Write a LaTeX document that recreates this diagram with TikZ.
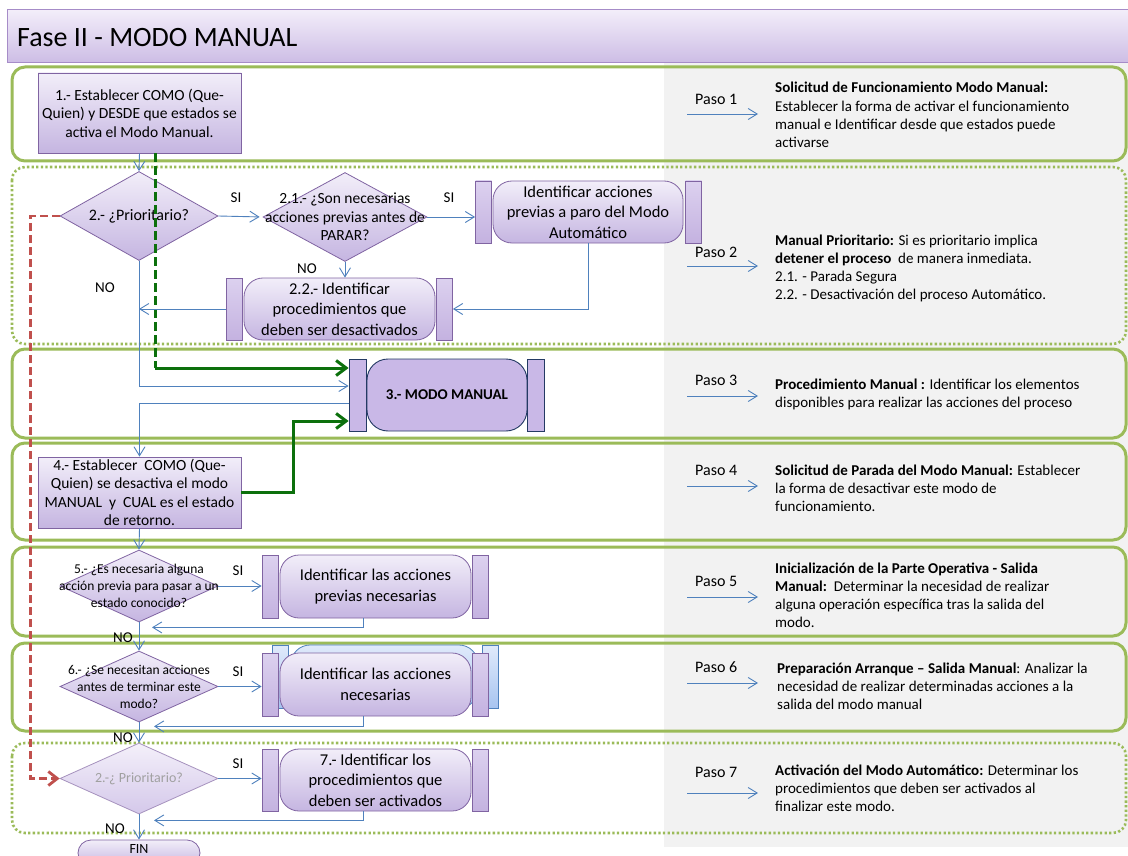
\documentclass[tikz,border=0pt]{standalone}
\usepackage{fontspec}
\setmainfont{Carlito}
\usetikzlibrary{arrows.meta,shapes.geometric,calc}

% palette
\definecolor{lanegreen}{RGB}{155,187,89}
\definecolor{flowblue}{RGB}{79,129,189}
\definecolor{boxedge}{RGB}{128,100,162}
\definecolor{boxtop}{RGB}{242,238,249}
\definecolor{boxbot}{RGB}{197,181,225}
\definecolor{bartop}{RGB}{220,209,239}
\definecolor{barbot}{RGB}{196,178,224}
\definecolor{okgreen}{RGB}{12,112,12}
\definecolor{backred}{RGB}{192,80,77}
\definecolor{panelgray}{RGB}{242,242,242}
\definecolor{modofill}{RGB}{201,184,231}
\definecolor{modoedge}{RGB}{36,58,100}
\definecolor{shadowtop}{RGB}{224,234,251}
\definecolor{shadowbot}{RGB}{167,196,240}
\definecolor{headtop}{RGB}{243,238,250}
\definecolor{headbot}{RGB}{205,189,229}
\definecolor{headedge}{RGB}{166,140,200}
\definecolor{fadetext}{RGB}{160,160,160}
\definecolor{fadetop}{RGB}{244,240,250}
\definecolor{fadebot}{RGB}{212,200,234}

% type sizes
\newcommand\fstitle{\fontsize{28}{32}\selectfont}
\newcommand\fsside{\fontsize{15}{18.3}\selectfont}
\newcommand\fspaso{\fontsize{16}{19}\selectfont}
\newcommand\fsbox{\fontsize{15.5}{18.5}\selectfont}
\newcommand\fsround{\fontsize{16.5}{20.5}\selectfont}
\newcommand\fsdiam{\fontsize{15.5}{18.5}\selectfont}
\newcommand\fssmall{\fontsize{13.5}{17}\selectfont}
\newcommand\fstag{\fontsize{15}{18}\selectfont}
\newcommand\leftlines[1]{\begin{tabular}[t]{@{}l@{}}#1\end{tabular}}

\tikzset{
  lane/.style={draw=lanegreen, line width=3pt, rounded corners=13pt},
  dotlane/.style={draw=lanegreen, line width=2.6pt, rounded corners=13pt, dash pattern=on 2.3pt off 2.3pt},
  stepbox/.style={rectangle, draw=boxedge, line width=0.8pt, top color=boxtop, bottom color=boxbot,
    minimum width=203pt, align=center, inner sep=0pt, font=\fsbox},
  decision/.style={diamond, draw=boxedge, line width=0.8pt, top color=boxtop, bottom color=boxbot,
    inner sep=0pt, minimum width=158pt},
  roundbox/.style={rectangle, rounded corners=19pt, draw=boxedge, line width=0.8pt, top color=boxtop,
    bottom color=boxbot, minimum width=191pt, align=center, inner sep=0pt, font=\fsround},
  sidebar/.style={rectangle, draw=boxedge, line width=0.8pt, top color=bartop, bottom color=barbot,
    minimum width=16pt, inner sep=0pt},
  shadowbox/.style={draw=flowblue, line width=0.8pt, top color=shadowtop, bottom color=shadowbot, inner sep=0pt},
  flow/.style={draw=flowblue, line width=0.9pt, -{Straight Barb[length=9pt,width=11pt]}},
  okflow/.style={draw=okgreen, line width=3pt, -{Straight Barb[length=10pt,width=15pt]}},
  okdash/.style={draw=okgreen, line width=3pt, dash pattern=on 9pt off 4pt},
  backflow/.style={draw=backred, line width=2.8pt, dash pattern=on 8pt off 4pt, -{Straight Barb[length=9pt,width=14pt]}},
  tag/.style={font=\fstag, inner sep=0pt, anchor=base},
  pasotag/.style={font=\fspaso, inner sep=0pt, anchor=base west},
  pasotext/.style={font=\fsside, inner sep=0pt, anchor=base west},
}

\begin{document}
\begin{tikzpicture}[x=1pt,y=-1pt]
\useasboundingbox (0,0) rectangle (1128,856);
\clip (0,0) rectangle (1128,856);
\fill[white] (0,0) rectangle (1128,856);

% right-hand description panel
\fill[panelgray] (664,62) rectangle (1128,847);

% title bar
\node[draw=headedge, line width=0.8pt, top color=headtop, bottom color=headbot, minimum width=1121pt,
  minimum height=53pt, inner sep=0pt, anchor=north west] (head) at (7,9) {};
\node[font=\fstitle, anchor=base west, inner sep=0pt] (title) at (17,47) {Fase II - MODO MANUAL};

% swim lanes
\draw[lane]    (12,67)  rectangle (1126,161);
\draw[dotlane] (12,167) rectangle (1126,344);
\draw[lane]    (12,349) rectangle (1126,438);
\draw[lane]    (12,443) rectangle (1126,540);
\draw[lane]    (12,547) rectangle (1126,636);
\draw[lane]    (12,643) rectangle (1126,731);
\draw[dotlane] (12,743) rectangle (1126,833);

% step 1
\node[stepbox, minimum height=80pt] (b1) at (139.5,113)
  {1.- Establecer COMO (Que-\\Quien) y DESDE que estados se\\activa el Modo Manual.};

% step 2
\node[decision, minimum height=89pt,
  label={[font=\fontsize{16}{19}\selectfont, inner sep=0pt]center:2.- ¿Prioritario?}] (d2) at (139,216) {};
\node[decision, minimum width=164pt, minimum height=89pt,
  label={[font=\fsdiam, align=center, inner sep=0pt]center:2.1.- ¿Son necesarias\\acciones previas antes de\\PARAR?}] (d21) at (345,217) {};
\node[roundbox, minimum width=190pt, minimum height=62pt] (aB) at (588,212)
  {Identificar acciones\\previas a paro del Modo\\Automático};
\node[sidebar, minimum height=62pt] (aL) at (483.5,212) {};
\node[sidebar, minimum height=62pt] (aR) at (693.5,212) {};
\node[roundbox, minimum height=62pt] (pB) at (339.5,309)
  {2.2.- Identificar\\procedimientos que\\deben ser desactivados};
\node[sidebar, minimum height=62pt] (pL) at (234.5,309) {};
\node[sidebar, minimum height=62pt] (pR) at (444.5,309) {};

% step 3
\node[sidebar, draw=modoedge, top color=modofill, bottom color=modofill, minimum width=17pt, minimum height=72pt] (mL) at (357.5,395) {};
\node[rectangle, rounded corners=21pt, draw=modoedge, line width=0.9pt, fill=modofill, minimum width=160pt,
  minimum height=72pt, inner sep=0pt, font=\fontsize{15}{17}\selectfont\bfseries] (mB) at (447,395) {3.- MODO MANUAL};
\node[sidebar, draw=modoedge, top color=modofill, bottom color=modofill, minimum width=17pt, minimum height=72pt] (mR) at (536,395) {};

% step 4
\node[stepbox, minimum height=71pt] (b4) at (139.5,492.5)
  {4.- Establecer\ \ COMO (Que-\\Quien) se desactiva el modo\\MANUAL\ \ y\ \ CUAL es el estado\\de retorno.};

% step 5
\node[decision, minimum height=72pt,
  label={[font=\fssmall, align=center, inner sep=0pt]center:5.- ¿Es necesaria alguna\\acción previa para pasar a un\\estado conocido?}] (d5) at (139,586) {};
\node[roundbox, minimum height=63pt] (qB) at (375.5,586.5) {Identificar las acciones\\previas necesarias};
\node[sidebar, minimum height=63pt] (qL) at (270,586.5) {};
\node[sidebar, minimum height=63pt] (qR) at (480.5,586.5) {};

% step 6
\node[decision, minimum height=71pt,
  label={[font=\fssmall, align=center, inner sep=0pt]center:6.- ¿Se necesitan acciones\\antes de terminar este\\modo?}] (d6) at (139,686.5) {};
\node[shadowbox, minimum width=16pt, minimum height=63pt] (sL) at (280,676.5) {};
\node[shadowbox, rounded corners=19pt, minimum width=187pt, minimum height=63pt] (sB) at (384.5,676.5) {};
\node[shadowbox, minimum width=16pt, minimum height=63pt] (sR) at (490,676.5) {};
\node[roundbox, minimum height=63pt] (rB) at (375.5,684.5) {Identificar las acciones\\necesarias};
\node[sidebar, minimum height=63pt] (rL) at (270,684.5) {};
\node[sidebar, minimum height=63pt] (rR) at (480.5,684.5) {};

% step 7
\node[decision, minimum height=71pt, draw=boxedge!70, top color=fadetop, bottom color=fadebot,
  label={[font=\fontsize{14}{17}\selectfont, text=fadetext, inner sep=0pt]center:2.-¿ Prioritario?}] (d7) at (139,778.5) {};
\node[roundbox, minimum height=62pt] (uB) at (375.5,780) {7.- Identificar los\\procedimientos que\\deben ser activados};
\node[sidebar, minimum height=62pt] (uL) at (270,780) {};
\node[sidebar, minimum height=62pt] (uR) at (480.5,780) {};

\node[draw=boxedge, line width=0.8pt, top color=boxtop, bottom color=boxbot, rounded corners=13pt,
  minimum width=122pt, text height=13pt, text depth=13pt, inner ysep=0pt,
  font=\fontsize{14}{16}\selectfont, anchor=base] (fin) at (139,853) {FIN};

% connectors
\draw[flow] (b1.south) -- (d2.north);
\coordinate (gturn) at (155,368);
\draw[okdash] ($(b1.south)+(15.5,0)$) -- (gturn);
\draw[okflow] (gturn) -- (mL.west |- gturn);

\draw[flow, shorten >=3pt] (d2.east) -- (d21.west);
\node[tag] (si1) at (236,203) {SI};
\draw[flow] (d21.east) -- (aL.west |- d21.east);
\node[tag] (si2) at (449,203) {SI};
\draw[flow] (d21.south) -- (d21.south |- pB.north);
\node[tag] (no21) at (307,273) {NO};
\draw[flow] (aB.south) |- (pR.east);
\draw[flow] (pL.west) -- (d2.south |- pL.west);
\draw[flow] (d2.south) |- ($(mL.west)+(0,-9)$);
\node[tag] (no2) at (105,292) {NO};

\draw[flow] ($(mL.west)+(0,8)$) -| (b4.north);
\draw[okflow] (b4.east) -- ++(52,0) |- ($(mL.west)+(0,26)$);

\draw[flow] (b4.south) -- (d5.north);
\draw[flow] (d5.east) -- (qL.west |- d5.east);
\node[tag] (si5) at (238,575) {SI};
\draw[flow] ($(qB.south)+(-12.5,0)$) |- ($(d5.south)+(13,5)$);
\draw[flow] (d5.south) -- (d6.north);
\node[tag] (no5) at (123,642) {NO};

\draw[flow] (d6.east) -- (rL.west |- d6.east);
\node[tag] (si6) at (238,676) {SI};
\draw[flow] ($(rB.south)+(-12.5,0)$) |- ($(d6.south)+(15,4)$);
\draw[flow] (d6.south) -- (d7.north);
\node[tag] (no6) at (123,742) {NO};

\draw[flow] (d7.east) -- (uL.west |- d7.east);
\node[tag] (si7) at (238,768) {SI};
\draw[flow] ($(uB.south)+(-12.5,0)$) |- ($(d7.south)+(15,6)$);
\draw[flow] (d7.south) -- (fin.north);
\node[tag] (no7) at (115,833) {NO};

\draw[backflow] (d2.west) -- ++(-29,0) |- (d7.west);

% step descriptions
\node[pasotag] (k1) at (695,105) {Paso 1};
\coordinate (k1s) at (687,114); \draw[flow] (k1s) -- ++(71,0);
\node[pasotext] (t1) at (775,93) {\leftlines{\textbf{Solicitud de Funcionamiento Modo Manual:}\\
  Establecer la forma de activar el funcionamiento\\manual e Identificar desde que estados puede\\activarse}};

\node[pasotag] (k2) at (695,257) {Paso 2};
\coordinate (k2s) at (687,266); \draw[flow] (k2s) -- ++(71,0);
\node[pasotext] (t2) at (775,245) {\leftlines{\textbf{Manual Prioritario:} Si es prioritario implica\\
  \textbf{detener el proceso}\ \ de manera inmediata.\\2.1. - Parada Segura\\2.2. - Desactivación del proceso Automático.}};

\node[pasotag] (k3) at (695,385) {Paso 3};
\coordinate (k3s) at (687,396); \draw[flow] (k3s) -- ++(71,0);
\node[pasotext] (t3) at (775,389) {\leftlines{\textbf{Procedimiento Manual :} Identificar los elementos\\
  disponibles para realizar las acciones del proceso}};

\node[pasotag] (k4) at (695,475) {Paso 4};
\coordinate (k4s) at (687,486); \draw[flow] (k4s) -- ++(71,0);
\node[pasotext] (t4) at (775,475) {\leftlines{\textbf{Solicitud de Parada del Modo Manual:} Establecer\\
  la forma de desactivar este modo de\\funcionamiento.}};

\node[pasotag] (k5) at (695,586) {Paso 5};
\coordinate (k5s) at (687,597); \draw[flow] (k5s) -- ++(71,0);
\node[pasotext] (t5) at (775,573) {\leftlines{\textbf{Inicialización de la Parte Operativa - Salida}\\
  \textbf{Manual:}\ \ Determinar la necesidad de realizar\\alguna operación específica tras la salida del\\modo.}};

\node[pasotag] (k6) at (695,672) {Paso 6};
\coordinate (k6s) at (687,683); \draw[flow] (k6s) -- ++(71,0);
\node[pasotext] (t6) at (777,673) {\leftlines{\textbf{Preparación Arranque – Salida Manual}: Analizar la\\
  necesidad de realizar determinadas acciones a la\\salida del modo manual}};

\node[pasotag] (k7) at (695,777) {Paso 7};
\coordinate (k7s) at (687,793); \draw[flow] (k7s) -- ++(71,0);
\node[pasotext] (t7) at (775,775) {\leftlines{\textbf{Activación del Modo Automático:} Determinar los\\
  procedimientos que deben ser activados al\\finalizar este modo.}};
\end{tikzpicture}
\end{document}
